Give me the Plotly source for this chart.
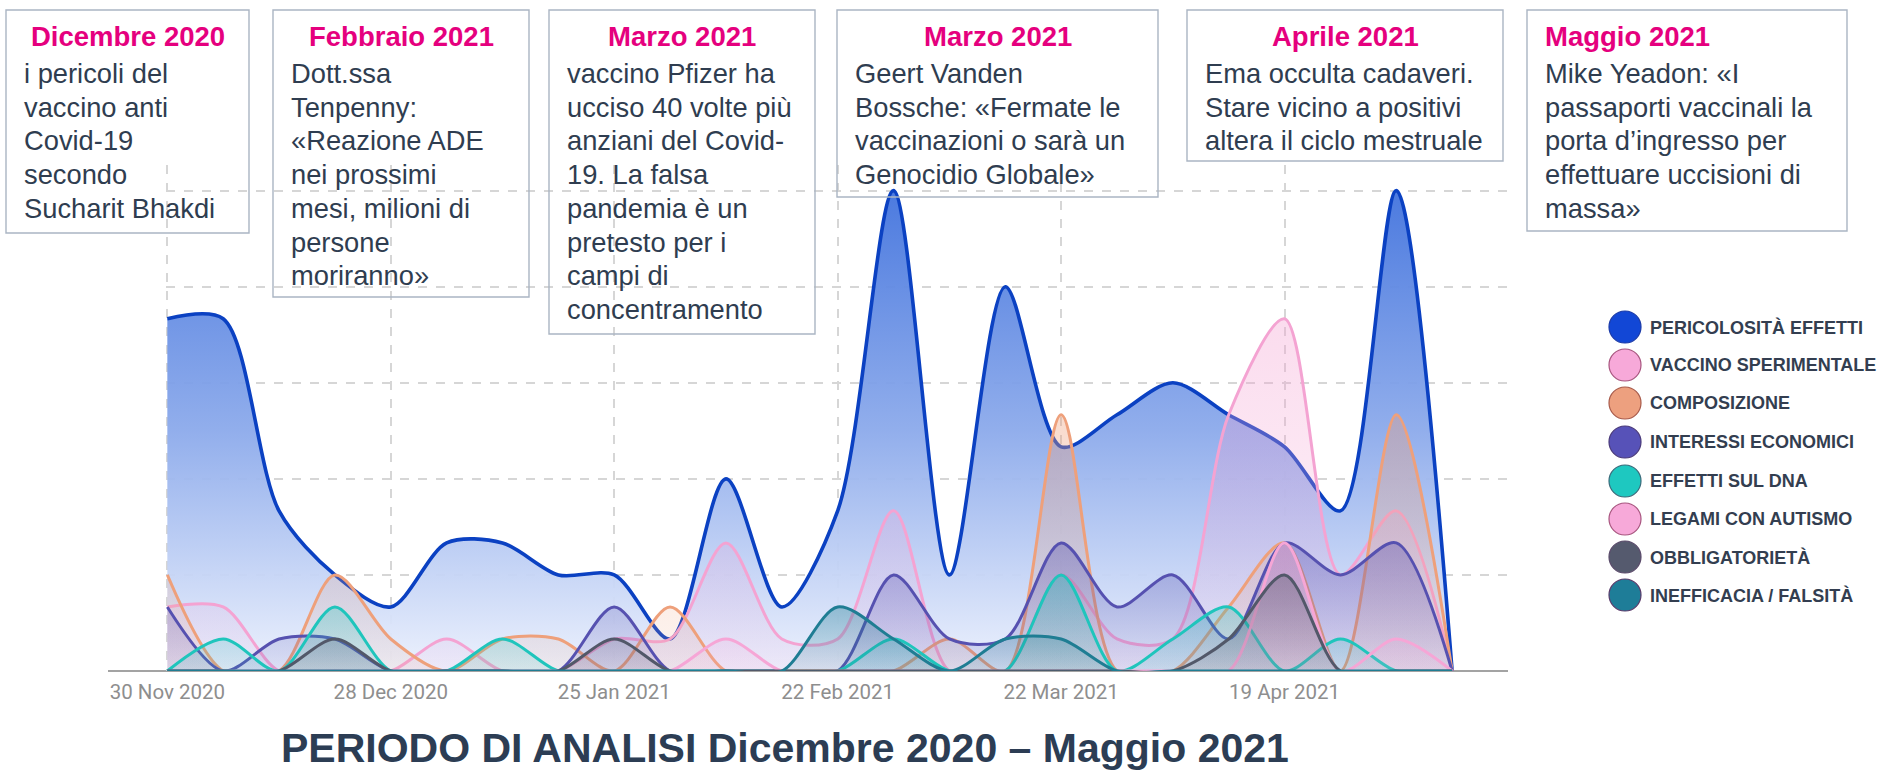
import plotly.graph_objects as go

# ---------------- data ----------------
dates = ["2020-11-30", "2020-12-07", "2020-12-14", "2020-12-21", "2020-12-28",
         "2021-01-04", "2021-01-11", "2021-01-18", "2021-01-25", "2021-02-01",
         "2021-02-08", "2021-02-15", "2021-02-22", "2021-03-01", "2021-03-08",
         "2021-03-15", "2021-03-22", "2021-03-29", "2021-04-05", "2021-04-12",
         "2021-04-19", "2021-04-26", "2021-05-03", "2021-05-10"]

pericolosita_effetti = [11, 11, 5, 3, 2, 4, 4, 3, 3, 1, 6, 2, 5, 15, 3, 12, 7, 8, 9, 8, 7, 5, 15, 0]
vaccino_sperimentale = [2, 2, 0, 0, 0, 1, 0, 0, 1, 1, 4, 1, 1, 5, 0, 0, 3, 1, 1, 8, 11, 3, 5, 0]
composizione = [3, 0, 0, 3, 1, 0, 1, 1, 0, 2, 0, 0, 0, 0, 1, 0, 8, 0, 0, 2, 4, 0, 8, 0]
interessi_economici = [2, 0, 1, 1, 0, 0, 0, 0, 2, 0, 0, 0, 0, 3, 1, 1, 4, 2, 3, 1, 4, 3, 4, 0]
effetti_dna = [0, 1, 0, 2, 0, 0, 1, 0, 0, 0, 0, 0, 0, 1, 0, 0, 3, 0, 1, 2, 0, 1, 0, 0]
legami_autismo = [0, 0, 0, 0, 0, 0, 0, 0, 0, 0, 1, 0, 0, 0, 0, 0, 0, 0, 0, 0, 4, 0, 1, 0]
obbligatorieta = [0, 0, 0, 1, 0, 0, 0, 0, 1, 0, 0, 0, 0, 0, 0, 0, 0, 0, 0, 1, 3, 0, 0, 0]
inefficacia_falsita = [0, 0, 0, 0, 0, 0, 0, 0, 0, 0, 0, 0, 2, 1, 0, 1, 1, 0, 0, 0, 0, 0, 0, 0]

series_names = ["PERICOLOSITÀ EFFETTI", "VACCINO SPERIMENTALE", "COMPOSIZIONE",
                "INTERESSI ECONOMICI", "EFFETTI SUL DNA", "LEGAMI CON AUTISMO",
                "OBBLIGATORIETÀ", "INEFFICACIA / FALSITÀ"]
series_values = [pericolosita_effetti, vaccino_sperimentale, composizione,
                 interessi_economici, effetti_dna, legami_autismo,
                 obbligatorieta, inefficacia_falsita]

tick_dates = ["2020-11-30", "2020-12-28", "2021-01-25", "2021-02-22", "2021-03-22", "2021-04-19"]
tick_labels = ["30 Nov 2020", "28 Dec 2020", "25 Jan 2021", "22 Feb 2021", "22 Mar 2021", "19 Apr 2021"]

box_titles = ["Dicembre 2020", "Febbraio 2021", "Marzo 2021", "Marzo 2021", "Aprile 2021", "Maggio 2021"]
box_texts = [
    ["i pericoli del", "vaccino anti", "Covid-19", "secondo", "Sucharit Bhakdi"],
    ["Dott.ssa", "Tenpenny:", "«Reazione ADE", "nei prossimi", "mesi, milioni di", "persone", "moriranno»"],
    ["vaccino Pfizer ha", "ucciso 40 volte più", "anziani del Covid-", "19. La falsa",
     "pandemia è un", "pretesto per i", "campi di", "concentramento"],
    ["Geert Vanden", "Bossche: «Fermate le", "vaccinazioni o sarà un", "Genocidio Globale»"],
    ["Ema occulta cadaveri.", "Stare vicino a positivi", "altera il ciclo mestruale"],
    ["Mike Yeadon: «I", "passaporti vaccinali la", "porta d’ingresso per",
     "effettuare uccisioni di", "massa»"],
]
bottom_title = "PERIODO DI ANALISI Dicembre 2020 – Maggio 2021"

# ---------------- styles ----------------
line_colors = ["#0b41c2", "#f4a3d2", "#eea07b", "#5651b0", "#1fc5bc", "#f6a6d6", "#525869", "#1f7d93"]
legend_fill = ["#1247d6", "#f7a9d9", "#eda07f", "#5752b8", "#1ec8c0", "#f7a9d9", "#555a6e", "#1e7d98"]
legend_edge = ["#1a3aa8", "#a8557f", "#a85a4a", "#4a3a7a", "#3a6a7a", "#a8557f", "#5a4a6a", "#5a3a6a"]
FONT = "Liberation Sans, Arial, sans-serif"


def rgba(hexc, a):
    h = hexc.lstrip("#")
    r, g, b = int(h[0:2], 16), int(h[2:4], 16), int(h[4:6], 16)
    return f"rgba({r},{g},{b},{a})"


W, H = 1883, 774
L, R, T, B = 166.0, 1508.0, 165.0, 671.0


def fx(p):
    return (p - L) / (R - L)


def fy(p):
    return (B - p) / (B - T)


fig = go.Figure()
for i, (name, vals) in enumerate(zip(series_names, series_values)):
    c = line_colors[i]
    if i == 0:
        grad = [[0, "rgba(236,241,253,0.95)"], [0.5, "rgba(140,170,235,0.95)"], [1, "rgba(70,118,222,0.97)"]]
        width = 3.6
    else:
        grad = [[0, rgba(c, 0.10)], [1, rgba(c, 0.38)]]
        width = 3.0
    fig.add_trace(go.Scatter(
        x=dates, y=vals, name=name, mode="lines",
        line=dict(color=c, width=width, shape="spline", smoothing=0.85),
        fill="tozeroy",
        fillgradient=dict(type="vertical", colorscale=grad),
        showlegend=False,
    ))

shapes = []
annotations = []

# baseline axis line
shapes.append(dict(type="line", xref="paper", yref="paper", x0=fx(108), x1=fx(1508), y0=0, y1=0,
                   line=dict(color="#a3a3a3", width=2), layer="below"))

# annotation boxes
box_px = [
    (6, 249, 10, 233, "center"),
    (273, 529, 10, 297, "center"),
    (549, 815, 10, 334, "center"),
    (837, 1158, 10, 197, "center"),
    (1187, 1503, 10, 161, "center"),
    (1527, 1847, 10, 231, "left"),
]
LINE = 33.7
for (x0, x1, y0, y1, talign), title, lines in zip(box_px, box_titles, box_texts):
    shapes.append(dict(type="rect", xref="paper", yref="paper",
                       x0=fx(x0), x1=fx(x1), y0=fy(y0), y1=fy(y1),
                       line=dict(color="#aab5c3", width=1.4), fillcolor="rgba(0,0,0,0)", layer="above"))
    body_x = x0 + 16
    if talign == "center":
        annotations.append(dict(xref="paper", yref="paper", x=fx((x0 + x1) / 2), y=fy(37),
                                xanchor="center", yanchor="middle", showarrow=False,
                                text=f"<b>{title}</b>",
                                font=dict(family=FONT, size=27.5, color="#e5007e")))
    else:
        annotations.append(dict(xref="paper", yref="paper", x=fx(body_x), y=fy(37),
                                xanchor="left", yanchor="middle", showarrow=False,
                                text=f"<b>{title}</b>",
                                font=dict(family=FONT, size=27.5, color="#e5007e")))
    for k, ln in enumerate(lines):
        annotations.append(dict(xref="paper", yref="paper", x=fx(body_x), y=fy(73.5 + k * LINE),
                                xanchor="left", yanchor="middle", align="left", showarrow=False,
                                text=ln,
                                font=dict(family=FONT, size=27.3, color="#2f3d50")))

# legend (manual, large circles)
leg_y = [327, 365, 403, 442, 481, 519, 557, 595]
for i, name in enumerate(series_names):
    yc = leg_y[i]
    shapes.append(dict(type="circle", xref="paper", yref="paper",
                       x0=fx(1609), x1=fx(1641), y0=fy(yc - 16), y1=fy(yc + 16),
                       fillcolor=legend_fill[i], line=dict(color=legend_edge[i], width=1.2), layer="above"))
    annotations.append(dict(xref="paper", yref="paper", x=fx(1648), y=fy(yc),
                            xanchor="left", yanchor="middle", showarrow=False,
                            text=f"<b>{name}</b>",
                            font=dict(family=FONT, size=18, color="#333e50")))

# bottom title
annotations.append(dict(xref="paper", yref="paper", x=fx(785), y=fy(748),
                        xanchor="center", yanchor="middle", showarrow=False,
                        text=f"<b>{bottom_title}</b>",
                        font=dict(family=FONT, size=41, color="#2c3d54")))

fig.update_layout(
    width=W, height=H,
    margin=dict(l=L, r=W - R, t=T, b=H - B, pad=0, autoexpand=False),
    paper_bgcolor="white", plot_bgcolor="white",
    showlegend=False,
    xaxis=dict(type="date", range=["2020-11-29 20:00", "2021-05-17"],
               tickmode="array", tickvals=tick_dates, ticktext=tick_labels,
               showgrid=True, gridcolor="#d6d6d6", griddash="dash", gridwidth=1.5,
               zeroline=False, showline=False, ticks="", ticklabelstandoff=6,
               tickfont=dict(family="Roboto, sans-serif", size=20.5, color="#8e8e8e")),
    yaxis=dict(range=[0, 15.8], dtick=3, tick0=0, showticklabels=False,
               showgrid=True, gridcolor="#d6d6d6", griddash="dash", gridwidth=1.5,
               zeroline=False, showline=False),
    shapes=shapes,
    annotations=annotations,
)

fig.write_html("out.html", config={"displayModeBar": False},
               post_script="document.body.style.margin='0';document.body.style.overflow='hidden';")
